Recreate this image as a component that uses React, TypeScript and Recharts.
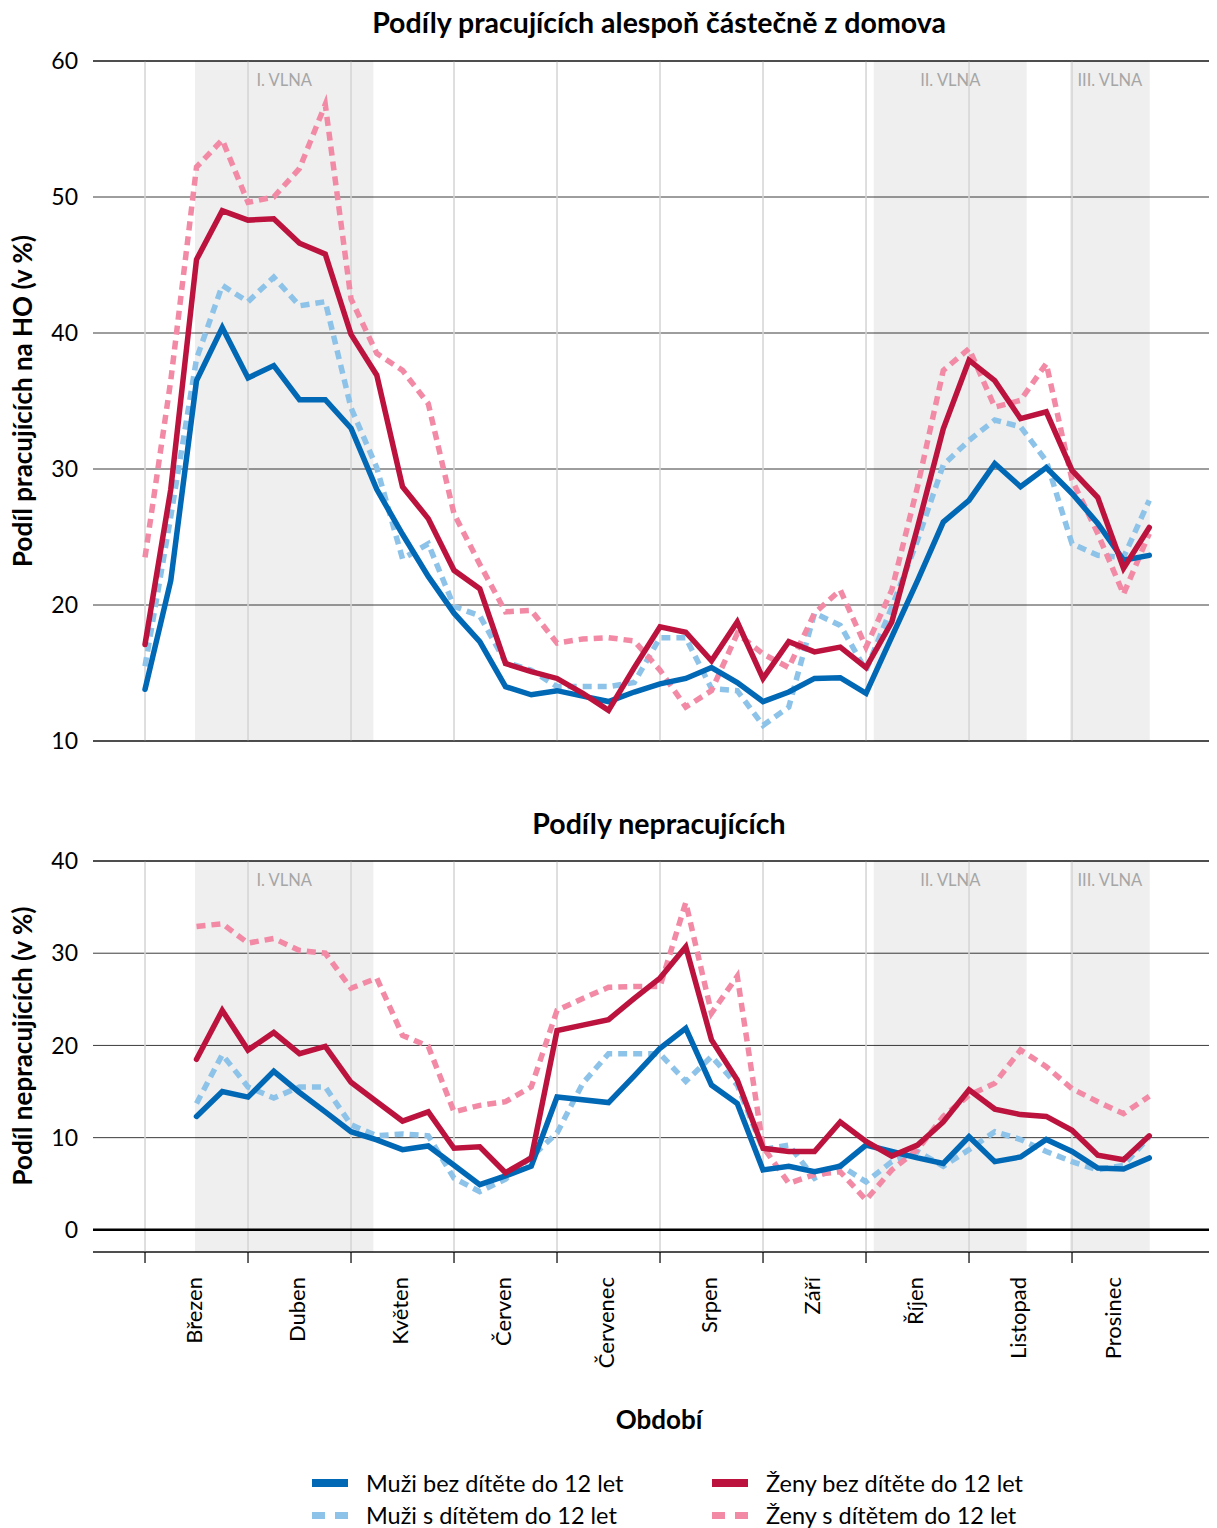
import { LineChart, Line, XAxis, YAxis, CartesianGrid, ReferenceArea, ReferenceLine } from 'recharts';

const FONT = 'Lato, "Open Sans", sans-serif';

// weekly observations, index 0..39 (4 per month, March–December)
const weeks = Array.from({ length: 40 }, (_, i) => i);
const monthLabels = ['Březen', 'Duben', 'Květen', 'Červen', 'Červenec', 'Srpen', 'Září', 'Říjen', 'Listopad', 'Prosinec'];
const monthStarts = [0, 4, 8, 12, 16, 20, 24, 28, 32, 36];

const waves = [
  { label: 'I. VLNA', from: 1.94, to: 8.87 },
  { label: 'II. VLNA', from: 28.3, to: 34.24 },
  { label: 'III. VLNA', from: 35.92, to: 39.02 },
];

// Podíly pracujících alespoň částečně z domova
const homeMuziBez = [13.8, 21.8, 36.5, 40.4, 36.7, 37.6, 35.1, 35.1, 33.0, 28.5, 25.2, 22.1, 19.4, 17.3, 14.0, 13.4, 13.7, 13.3, 12.9, 13.6, 14.2, 14.6, 15.4, 14.3, 12.9, 13.6, 14.6, 14.65, 13.5, 17.65, 21.8, 26.1, 27.7, 30.4, 28.7, 30.1, 28.2, 26.0, 23.3, 23.65];
const homeMuziS = [15.5, 26.5, 38.1, 43.5, 42.3, 44.1, 42.0, 42.3, 34.5, 30.1, 23.4, 24.5, 19.9, 19.2, 15.8, 15.2, 14.0, 14.0, 14.0, 14.3, 17.6, 17.6, 13.85, 13.7, 11.15, 12.5, 19.4, 18.5, 15.2, 19.85, 24.75, 30.3, 32.1, 33.6, 33.1, 30.6, 24.5, 23.65, 23.5, 27.7];
const homeZenyBez = [17.1, 28.5, 45.4, 49.0, 48.3, 48.4, 46.6, 45.8, 39.9, 36.9, 28.7, 26.35, 22.55, 21.2, 15.7, 15.1, 14.6, 13.5, 12.25, 15.4, 18.4, 18.0, 15.9, 18.75, 14.6, 17.3, 16.55, 16.9, 15.4, 18.75, 25.7, 32.95, 38.0, 36.5, 33.7, 34.2, 29.9, 27.9, 22.7, 25.7];
const homeZenyS = [23.5, 36.5, 52.2, 54.2, 49.6, 50.0, 52.1, 56.8, 42.5, 38.5, 37.25, 34.8, 26.7, 23.0, 19.5, 19.6, 17.2, 17.5, 17.6, 17.35, 15.2, 12.5, 13.7, 17.9, 16.4, 15.4, 19.4, 21.1, 16.9, 21.1, 28.7, 37.25, 38.85, 34.55, 35.05, 37.75, 29.2, 25.25, 20.8, 25.25];

// Podíly nepracujících
const idleMuziBez = [null, null, 12.3, 15.0, 14.4, 17.2, 14.9, 12.8, 10.65, 9.75, 8.7, 9.1, 7.0, 4.9, 5.85, 6.9, 14.4, 14.1, 13.8, 16.7, 19.7, 21.85, 15.7, 13.7, 6.5, 6.9, 6.3, 6.9, 9.2, 8.5, 7.8, 7.2, 10.1, 7.4, 7.9, 9.8, 8.5, 6.7, 6.6, 7.8];
const idleMuziS = [null, null, 13.7, 19.0, 15.5, 14.3, 15.5, 15.5, 11.4, 10.2, 10.4, 10.2, 5.6, 4.15, 5.5, 7.9, 10.5, 15.9, 19.1, 19.1, 19.1, 16.1, 18.8, 15.7, 8.7, 9.2, 5.6, 7.0, 5.2, 7.4, 8.5, 6.9, 8.7, 10.65, 9.8, 8.5, 7.4, 6.5, 7.0, 10.1];
const idleZenyBez = [null, null, 18.5, 23.8, 19.5, 21.4, 19.1, 19.9, 16.0, 13.9, 11.8, 12.8, 8.85, 9.0, 6.2, 7.8, 21.6, 22.2, 22.8, 25.1, 27.3, 30.7, 20.6, 16.25, 8.85, 8.5, 8.5, 11.7, 9.6, 8.0, 9.2, 11.7, 15.2, 13.1, 12.5, 12.3, 10.8, 8.1, 7.6, 10.2];
const idleZenyS = [null, null, 32.9, 33.2, 31.1, 31.6, 30.3, 30.0, 26.2, 27.3, 21.1, 19.9, 12.8, 13.5, 13.9, 15.5, 23.8, 25.1, 26.3, 26.4, 26.4, 35.5, 23.5, 27.5, 9.0, 5.05, 6.0, 6.3, 3.25, 6.5, 8.7, 12.3, 14.6, 15.9, 19.5, 17.7, 15.3, 13.9, 12.6, 14.5];

const topTicks = [10, 20, 30, 40, 50, 60];
const bottomTicks = [0, 10, 20, 30, 40];

const series = [
  { key: 'ms', name: 'Muži s dítětem do 12 let', color: '#8dc3e8', dashed: true },
  { key: 'zs', name: 'Ženy s dítětem do 12 let', color: '#f28aa6', dashed: true },
  { key: 'mb', name: 'Muži bez dítěte do 12 let', color: '#0068b4', dashed: false },
  { key: 'zb', name: 'Ženy bez dítěte do 12 let', color: '#bb133e', dashed: false },
];
const legendOrder = [
  ['mb', 'zb'],
  ['ms', 'zs'],
];

const topData = weeks.map(i => ({ i, mb: homeMuziBez[i], ms: homeMuziS[i], zb: homeZenyBez[i], zs: homeZenyS[i] }));
const bottomData = weeks.map(i => ({ i, mb: idleMuziBez[i], ms: idleMuziS[i], zb: idleZenyBez[i], zs: idleZenyS[i] }));

const X_DOMAIN = [-2.02, 41.63];
const W = 1209;

function MonthTick(props: any) {
  const { x, y, index } = props;
  const shift = index === monthLabels.length - 1 ? 40 : 48;
  return (
    <g>
      <line x1={x} x2={x} y1={y} y2={y + 11} stroke="#000" strokeWidth={1.2} />
      <text
        transform={`translate(${x + shift}, ${y + 25}) rotate(-90)`}
        textAnchor="end"
        dominantBaseline="central"
        fontSize={22}
        fontFamily={FONT}
        fill="#000"
      >
        {monthLabels[index]}
      </text>
    </g>
  );
}

function decorations() {
  return [
    ...waves.map(w => (
      <ReferenceArea
        key={w.label}
        x1={w.from}
        x2={w.to}
        fill="#000"
        fillOpacity={0.063}
        stroke="none"
        label={{ value: w.label, position: 'insideTop', offset: 13, fill: '#a6a6a6', fontSize: 16.5, fontFamily: FONT }}
      />
    )),
    ...monthStarts.map(m => <ReferenceLine key={'v' + m} x={m} stroke="#d4d4d4" strokeWidth={1.5} />),
  ];
}

function seriesLines() {
  return series.map(s => (
    <Line
      key={s.key}
      dataKey={s.key}
      type="linear"
      stroke={s.color}
      strokeWidth={5.5}
      strokeDasharray={s.dashed ? '9 6' : undefined}
      strokeLinecap={s.dashed ? 'butt' : 'round'}
      strokeLinejoin="miter"
      dot={false}
      activeDot={false}
      isAnimationActive={false}
    />
  ));
}

const tickStyle = { fontSize: 23, fill: '#000', fontFamily: FONT };

function LegendItem({ s }: { s: typeof series[number] }) {
  return (
    <div style={{ display: 'flex', alignItems: 'center', height: 32 }}>
      {s.dashed ? (
        <div style={{ width: 36, display: 'flex', justifyContent: 'space-between' }}>
          <div style={{ width: 13, height: 7, background: s.color }} />
          <div style={{ width: 13, height: 7, background: s.color }} />
        </div>
      ) : (
        <div style={{ width: 36, height: 8, background: s.color }} />
      )}
      <span style={{ marginLeft: 18, fontSize: 23.5, color: '#000' }}>{s.name}</span>
    </div>
  );
}

export default function App() {
  const bold = { fontWeight: 700, color: '#000', position: 'absolute' as const, whiteSpace: 'nowrap' as const };
  return (
    <div style={{ position: 'relative', width: W, height: 1520, fontFamily: FONT }}>
      <div style={{ ...bold, left: 89, width: 1124, top: -2, textAlign: 'center', fontSize: 28.5, lineHeight: '32px' }}>
        Podíly pracujících alespoň částečně z domova
      </div>
      <div style={{ ...bold, left: 14, top: 393, fontSize: 26, transform: 'translate(-50%, -50%) rotate(-90deg)' }}>
        Podíl pracujících na HO (v %)
      </div>

      <div style={{ position: 'absolute', left: 0, top: 0 }}>
        <LineChart width={W} height={745} data={topData} margin={{ top: 53, right: 0, bottom: 12, left: 0 }}>
          <CartesianGrid vertical={false} stroke="#3c3c3c" strokeWidth={1} />
          {decorations()}
          <XAxis dataKey="i" type="number" domain={X_DOMAIN} allowDataOverflow hide />
          <YAxis
            type="number"
            domain={[10, 60]}
            ticks={topTicks}
            interval={0}
            allowDataOverflow
            width={85}
            axisLine={false}
            tickLine={false}
            tickSize={0}
            tickMargin={15}
            tick={tickStyle}
          />
          <ReferenceLine y={10} stroke="#000" strokeWidth={1.2} />
          <ReferenceLine y={60} stroke="#000" strokeWidth={1.2} />
          {seriesLines()}
        </LineChart>
      </div>

      <div style={{ ...bold, left: 89, width: 1124, top: 799, textAlign: 'center', fontSize: 28.5, lineHeight: '32px' }}>
        Podíly nepracujících
      </div>
      <div style={{ ...bold, left: 14, top: 1038, fontSize: 26, transform: 'translate(-50%, -50%) rotate(-90deg)' }}>
        Podíl nepracujících (v %)
      </div>

      <div style={{ position: 'absolute', left: 0, top: 800 }}>
        <LineChart width={W} height={574} data={bottomData} margin={{ top: 53, right: 0, bottom: 0, left: 0 }}>
          <CartesianGrid vertical={false} stroke="#3c3c3c" strokeWidth={1} />
          {decorations()}
          <XAxis
            dataKey="i"
            type="number"
            domain={X_DOMAIN}
            allowDataOverflow
            ticks={monthStarts}
            interval={0}
            height={130}
            axisLine={{ stroke: '#000', strokeWidth: 1.2 }}
            tickLine={false}
            tickSize={0}
            tickMargin={0}
            tick={<MonthTick />}
          />
          <YAxis
            type="number"
            domain={[-2.4, 40]}
            ticks={bottomTicks}
            interval={0}
            allowDataOverflow
            width={85}
            axisLine={false}
            tickLine={false}
            tickSize={0}
            tickMargin={15}
            tick={tickStyle}
          />
          <ReferenceLine y={0} stroke="#000" strokeWidth={2.5} />
          <ReferenceLine y={40} stroke="#000" strokeWidth={1.2} />
          {seriesLines()}
        </LineChart>
      </div>

      <div style={{ ...bold, left: 89, width: 1124, top: 1396, textAlign: 'center', fontSize: 26, lineHeight: '30px' }}>
        Období
      </div>

      <div style={{ position: 'absolute', left: 304, top: 1459, display: 'flex', gap: 0 }}>
        {legendOrder[0].map((_, col) => (
          <div key={col} style={{ width: col === 0 ? 400 : 360 }}>
            {legendOrder.map(row => {
              const s = series.find(v => v.key === row[col])!;
              return <LegendItem key={s.key} s={s} />;
            })}
          </div>
        ))}
      </div>
    </div>
  );
}
